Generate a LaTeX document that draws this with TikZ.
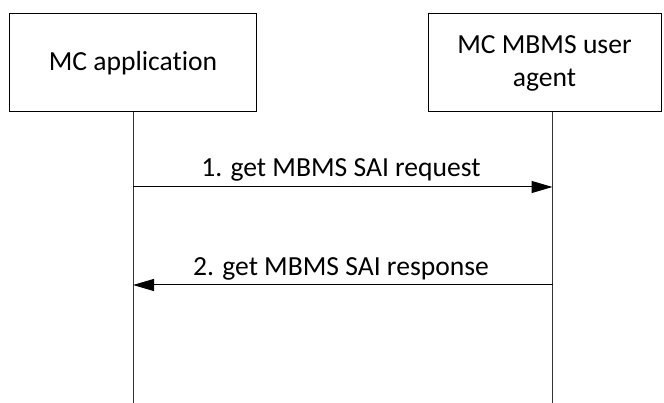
\documentclass[tikz,border=0pt]{standalone}
\usepackage{fontspec}
\setmainfont[Ligatures=NoCommon]{Carlito}
\usetikzlibrary{arrows.meta}
\begin{document}
\begin{tikzpicture}[x=1pt,y=-1pt,
  entity/.style={draw=black,line width=1pt,minimum height=98pt,align=center,inner sep=0pt,font=\fontsize{27.6}{33}\selectfont},
  lifeline/.style={draw=black!80,line width=1pt},
  msg/.style={draw=black,line width=1pt,-{Triangle[length=21pt,width=12pt]}},
  lbl/.style={font=\fontsize{27.6}{33}\selectfont,anchor=base,inner sep=0pt}]
\useasboundingbox (0,0) rectangle (664,403);
\node[entity,minimum width=247pt] (app) at (133,63) {MC application};
\node[entity,minimum width=233pt] (ua) at (544.5,63) {MC MBMS user\\agent};
\coordinate (ltop) at (133,112);
\coordinate (lbot) at (133,403);
\coordinate (rtop) at (552.5,112);
\coordinate (rbot) at (552.5,403);
\draw[lifeline] (ltop) -- (lbot);
\draw[lifeline] (rtop) -- (rbot);
\coordinate (m1s) at (133,187);
\coordinate (m1e) at (552.5,187);
\coordinate (m2s) at (552.5,285);
\coordinate (m2e) at (133,285);
\draw[msg] (m1s) -- (m1e);
\draw[msg] (m2s) -- (m2e);
\node[lbl] (l1) at (341,177) {1. get MBMS SAI request};
\node[lbl] (l2) at (341,276) {2. get MBMS SAI response};
\end{tikzpicture}
\end{document}
